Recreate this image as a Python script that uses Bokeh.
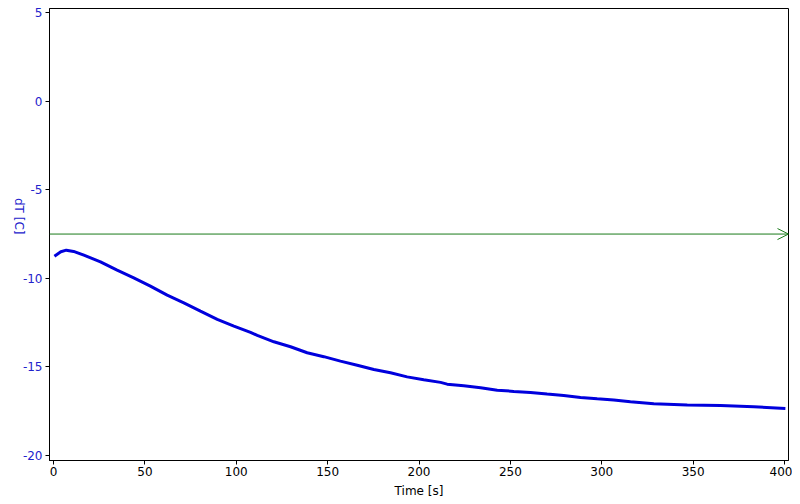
import math
from bokeh.plotting import figure
from bokeh.models import Range1d, FixedTicker, Label, Arrow, OpenHead
from bokeh.embed import file_html
from bokeh.resources import INLINE

# data
time_s = [0.5, 4, 7, 11, 16.6, 25.7, 34.8, 43.9, 53, 62.2, 71.3, 80.4, 89.6, 98.7,
          107.8, 111.5, 120.6, 129.7, 138.8, 147.9, 157, 166.2, 175.3, 184.4, 193.5,
          202.6, 211.8, 215.4, 224.5, 233.7, 242.8, 251.9, 261, 270.1, 279.2, 288.4,
          297.5, 306.6, 315.7, 328.5, 346.8, 365, 383.2, 400.5]
dT_c = [-8.75, -8.5, -8.41, -8.48, -8.69, -9.07, -9.54, -9.97, -10.44, -10.95, -11.38,
        -11.85, -12.32, -12.70, -13.05, -13.22, -13.58, -13.86, -14.2, -14.42, -14.67,
        -14.9, -15.14, -15.33, -15.56, -15.72, -15.87, -15.97, -16.06, -16.17, -16.31,
        -16.38, -16.44, -16.53, -16.61, -16.72, -16.8, -16.87, -16.97, -17.08, -17.15,
        -17.18, -17.25, -17.34]
threshold = -7.5
x_ticks = [0, 50, 100, 150, 200, 250, 300, 350, 400]
y_ticks = [-20, -15, -10, -5, 0, 5]

X0, X1 = -2.2, 402.2
Y0, Y1 = -20.28, 5.23

p = figure(width=792, height=502, output_backend="svg", toolbar_location=None,
           x_range=Range1d(X0, X1), y_range=Range1d(Y0, Y1),
           min_border_left=49, min_border_right=4, min_border_top=8, min_border_bottom=42)
p.background_fill_color = "white"
p.border_fill_color = "white"
p.outline_line_color = "black"
p.outline_line_width = 1
p.grid.visible = False

FONT = "DejaVu Sans"
BLUE_TXT = "#2222cc"

p.xaxis.ticker = FixedTicker(ticks=x_ticks)
p.yaxis.ticker = FixedTicker(ticks=y_ticks)
for ax in (p.xaxis[0], p.yaxis[0]):
    ax.axis_line_color = "black"
    ax.major_tick_line_color = "black"
    ax.minor_tick_line_color = None
    ax.major_tick_in = 0
    ax.major_tick_out = 4
    ax.major_label_text_font = FONT
    ax.major_label_text_font_size = "12px"
    ax.axis_label_text_font = FONT
    ax.axis_label_text_font_size = "12px"
    ax.axis_label_text_font_style = "normal"

p.xaxis.major_label_text_color = "black"
p.xaxis.axis_label = "Time [s]"
p.xaxis.axis_label_text_color = "black"
p.xaxis.axis_label_standoff = 5
p.xaxis.major_label_standoff = 2

p.yaxis.major_label_text_color = BLUE_TXT
p.yaxis.major_label_standoff = 3
p.yaxis.major_label_overrides = {t: str(t) for t in y_ticks}

p.line(time_s, dT_c, line_color="#0000dd", line_width=3)

p.add_layout(Arrow(end=OpenHead(size=11, line_color="#1a7a1a", line_width=1),
                   x_start=X0, y_start=threshold, x_end=X1, y_end=threshold,
                   line_color="#1a7a1a", line_width=1))

try:
    p.yaxis.axis_label = "dT [C]"
    p.yaxis.axis_label_text_color = BLUE_TXT
    p.yaxis.axis_label_standoff = 1
    p.yaxis[0].axis_label_orientation = -math.pi / 2
except Exception:
    p.yaxis.axis_label = None
    ylab = Label(x=-38, y=230, x_units="screen", y_units="screen", text="dT [C]",
                 angle=-math.pi / 2, text_align="center", text_baseline="middle",
                 text_font=FONT, text_font_size="12px", text_color=BLUE_TXT)
    p.add_layout(ylab)

open("out.html", "w").write(file_html(p, INLINE))
